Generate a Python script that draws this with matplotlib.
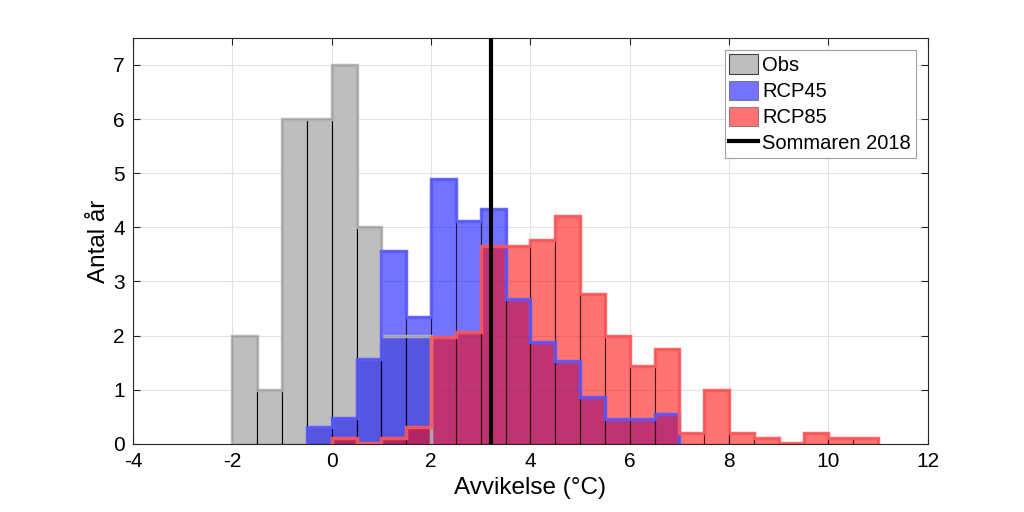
import matplotlib.pyplot as plt
import numpy as np

plt.rcParams['font.family'] = ['Liberation Sans', 'DejaVu Sans']
plt.rcParams['axes.unicode_minus'] = False

# bin edges, 0.5 degrees wide
obs_edges = np.arange(-2.0, 2.01, 0.5)
obs_counts = [2, 1, 6, 6, 7, 4, 2, 2]

rcp45_edges = np.arange(-0.5, 7.01, 0.5)
rcp45_counts = [0.31, 0.48, 1.57, 3.57, 2.35, 4.90, 4.12, 4.34,
                2.68, 1.89, 1.53, 0.87, 0.46, 0.46, 0.56]

rcp85_edges = np.arange(0.0, 11.01, 0.5)
rcp85_counts = [0.10, 0.02, 0.11, 0.31, 1.98, 2.07, 3.66, 3.66,
                3.77, 4.21, 2.77, 2.00, 1.44, 1.76, 0.20, 1.00,
                0.20, 0.10, 0.02, 0.20, 0.10, 0.10]

summer_2018 = 3.2

series = [
    ("Obs", obs_edges, obs_counts, '#bebebe', 1.0, '#b4b4b4'),
    ("RCP45", rcp45_edges, rcp45_counts, '#0000ff', 0.55, '#5a5aff'),
    ("RCP85", rcp85_edges, rcp85_counts, '#ff0000', 0.55, '#ff5a5a'),
]

fig = plt.figure(figsize=(10.24, 5.12), dpi=100)
ax = fig.add_axes([0.130, 0.133, 0.776, 0.793])

handles = []
for name, edges, counts, face, alpha, line in series:
    h = ax.bar(edges[:-1], counts, width=0.5, align='edge', color=face,
               alpha=alpha, edgecolor=(0, 0, 0, 0.6), linewidth=0.8,
               label=name, zorder=2)
    ax.stairs(counts, edges, baseline=0, color=line, linewidth=2.5,
              alpha=0.9, zorder=3)
    handles.append(h)

vl = ax.axvline(summer_2018, color='black', linewidth=3, zorder=5,
                label='Sommaren 2018')
handles.append(vl)

ax.set_xlim(-4, 12)
ax.set_ylim(0, 7.5)
ax.set_xticks(np.arange(-4, 13, 2))
ax.set_yticks(np.arange(0, 8, 1))
ax.grid(True, color='#e3e3e3', linewidth=0.8, zorder=0)
ax.set_axisbelow(True)
ax.tick_params(direction='in', length=5, width=0.8, color='#262626',
               labelsize=15, top=True, right=True, pad=6)
for s in ax.spines.values():
    s.set_color('#262626')
    s.set_linewidth(0.8)

ax.set_xlabel('Avvikelse (°C)', fontsize=17.5, labelpad=4)
ax.set_ylabel('Antal år', fontsize=17.5, labelpad=2)

leg = ax.legend(handles=handles, loc='upper right', fontsize=14.5,
                fancybox=False, framealpha=1, edgecolor='#a0a0a0',
                borderpad=0.22, handlelength=1.45, handleheight=1.1,
                handletextpad=0.2, labelspacing=0.28, borderaxespad=0.6)
leg.get_frame().set_linewidth(0.8)
for p in leg.get_patches():
    p.set_edgecolor('#404040')

fig.savefig('out.png', dpi=100)
